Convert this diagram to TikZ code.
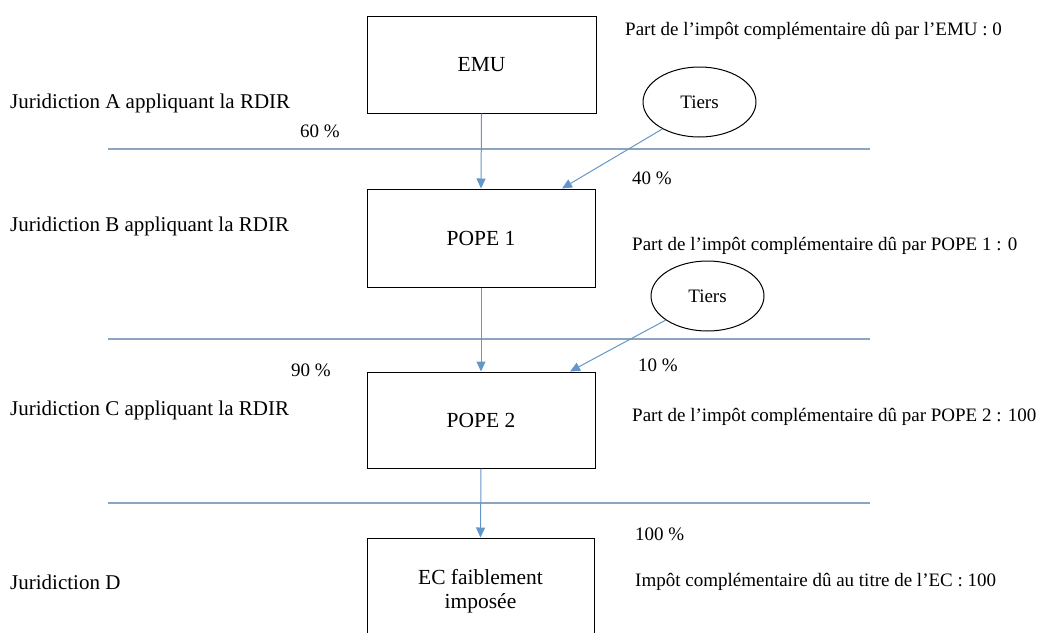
\documentclass[tikz,border=0pt]{standalone}
\usepackage{fontspec}
\setmainfont{Liberation Serif}
\usetikzlibrary{arrows.meta,calc,shapes.geometric}
\definecolor{flow}{RGB}{100,150,200}
\definecolor{rulecol}{RGB}{140,165,190}
\tikzset{
  entity/.style={draw=black, line width=1pt, inner sep=0pt, align=center,
    font=\rmfamily\fontsize{21.5}{23.5}\selectfont},
  third/.style={draw=black, line width=1pt, ellipse, inner sep=0pt,
    minimum width=113pt, minimum height=70pt, font=\rmfamily\fontsize{19}{22}\selectfont},
  note/.style={anchor=base west, inner sep=0pt, font=\rmfamily\fontsize{19}{22}\selectfont},
  zone/.style={anchor=base west, inner sep=0pt, font=\rmfamily\fontsize{21}{24}\selectfont},
  share/.style={draw=flow, line width=1pt, -{Triangle[length=10pt,width=9pt]}},
  sepline/.style={draw=rulecol, line width=1.2pt},
}
\begin{document}
\begin{tikzpicture}[x=1pt, y=-1pt]
\useasboundingbox (0,0) rectangle (1046,632);

% jurisdiction separators
\draw[sepline] (108,149) -- (870,149);
\draw[sepline] (108,339) -- (870,339);
\draw[sepline] (108,503) -- (870,503);

% entities of the ownership chain
\node[entity, minimum width=229pt, minimum height=97pt] (emu) at (481.5,64.5) {EMU};
\node[entity, minimum width=228pt, minimum height=98pt] (p1) at (481,238) {POPE 1};
\node[entity, minimum width=228pt, minimum height=96pt] (p2) at (481,420) {POPE 2};
\node[entity, minimum width=227pt, minimum height=106pt] (ec) at (480.5,591) {EC faiblement\\imposée};

% outside holders
\node[third] (t1) at (699.5,102) {Tiers};
\node[third] (t2) at (707.5,296) {Tiers};

% ownership flows
\draw[share] (emu.south) -- (p1.north);
\draw[share] (p1.south) -- (p2.north);
\draw[share] (p2.south) -- (ec.north);
\draw[share] (t1.216) -- ($(p1.north)+(81,0)$);
\draw[share] (t2.210) -- ($(p2.north)+(89,0)$);

% jurisdictions
\node[zone] (ja) at (10,108) {Juridiction A appliquant la RDIR};
\node[zone] (jb) at (10,231) {Juridiction B appliquant la RDIR};
\node[zone] (jc) at (10,415) {Juridiction C appliquant la RDIR};
\node[zone] (jd) at (10,589) {Juridiction D};

% ownership percentages
\node[note] (s60) at (300,137) {60 \%};
\node[note] (s40) at (632,184) {40 \%};
\node[note] (s90) at (291,376) {90 \%};
\node[note] (s10) at (638,371) {10 \%};
\node[note] (s100) at (635,540) {100 \%};

% top-up tax allocation
\node[note] (a1) at (625,35) {Part de l’impôt complémentaire dû par l’EMU : 0};
\node[note] (a2) at (632,250) {Part de l’impôt complémentaire dû par POPE 1 : 0};
\node[note] (a3) at (632,421) {Part de l’impôt complémentaire dû par POPE 2 : 100};
\node[note] (a4) at (635,586) {Impôt complémentaire dû au titre de l’EC : 100};
\end{tikzpicture}
\end{document}
